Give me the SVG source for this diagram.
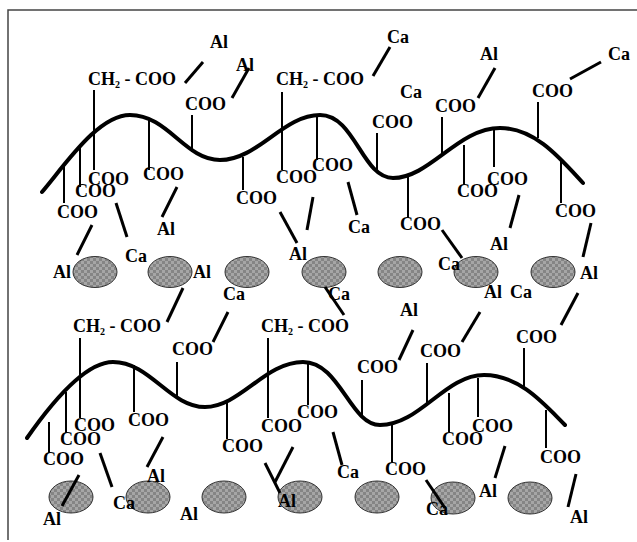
<svg xmlns="http://www.w3.org/2000/svg" width="637" height="542" viewBox="0 0 637 542">
  <defs>
    <pattern id="grain" width="6" height="6" patternUnits="userSpaceOnUse">
      <rect width="6" height="6" fill="#858585"/>
      <rect width="3" height="3" fill="#a6a6a6"/>
      <rect x="3" y="3" width="3" height="3" fill="#a6a6a6"/>
    </pattern>
    <style>
      .frame { fill: none; stroke: #444; stroke-width: 1.5; }
      .chain { fill: none; stroke: #000; stroke-width: 4; stroke-linecap: round; }
      .stick { stroke: #000; stroke-width: 2; }
      .bond { stroke: #000; stroke-width: 3; }
      .grain { fill: url(#grain); stroke: #333; stroke-width: 1; }
      text { font-family: "Liberation Serif", "Times New Roman", serif; font-weight: bold; font-size: 18px; fill: #000; }
      .sub { font-size: 10px; }
    </style>
  </defs>

  <rect width="637" height="542" fill="#fff"/>

  <!-- frame -->
  <g id="frame">
    <polyline class="frame" points="8,540 8,10 637,10"/>
  </g>

  <!-- particles -->
  <g id="particles-upper">
    <ellipse class="grain" cx="95" cy="272" rx="22" ry="15.5"/>
    <ellipse class="grain" cx="170" cy="272" rx="22" ry="15.5"/>
    <ellipse class="grain" cx="247" cy="272" rx="22" ry="15.5"/>
    <ellipse class="grain" cx="324" cy="272" rx="22" ry="15.5"/>
    <ellipse class="grain" cx="400" cy="272" rx="22" ry="15.5"/>
    <ellipse class="grain" cx="476" cy="272" rx="22" ry="15.5"/>
    <ellipse class="grain" cx="553" cy="272" rx="22" ry="15.5"/>
  </g>
  <g id="particles-lower">
    <ellipse class="grain" cx="71" cy="497" rx="22" ry="16"/>
    <ellipse class="grain" cx="148" cy="497" rx="22" ry="16"/>
    <ellipse class="grain" cx="224" cy="497" rx="22" ry="16"/>
    <ellipse class="grain" cx="300" cy="497" rx="22" ry="16"/>
    <ellipse class="grain" cx="377" cy="497" rx="22" ry="16"/>
    <ellipse class="grain" cx="453" cy="498" rx="22" ry="16"/>
    <ellipse class="grain" cx="530" cy="498" rx="22" ry="16"/>
  </g>

  <!-- polymer backbones -->
  <g id="chain-upper">
    <path class="chain" d="M42,192 C65,165 98,115 130,115 C168,115 185,160 220,160 C258,160 283,115 320,115 C355,115 362,178 393,178 C430,178 458,128 500,128 C535,128 560,158 583,183"/>
  </g>
  <g id="chain-lower">
    <path class="chain" d="M27,438 C50,405 85,362 113,362 C150,362 170,407 205,407 C240,407 265,362 303,362 C340,362 350,425 380,425 C420,425 445,375 484,375 C520,375 545,405 565,425"/>
  </g>

  <!-- side groups on the backbones -->
  <g id="sticks">
    <line class="stick" x1="64" y1="165" x2="64" y2="203"/>
    <line class="stick" x1="80" y1="145" x2="80" y2="187"/>
    <line class="stick" x1="94" y1="90" x2="94" y2="170"/>
    <line class="stick" x1="149" y1="118" x2="149" y2="170"/>
    <line class="stick" x1="192" y1="115" x2="192" y2="152"/>
    <line class="stick" x1="243" y1="157" x2="243" y2="190"/>
    <line class="stick" x1="282" y1="92" x2="282" y2="170"/>
    <line class="stick" x1="317" y1="117" x2="317" y2="160"/>
    <line class="stick" x1="377" y1="133" x2="377" y2="173"/>
    <line class="stick" x1="408" y1="176" x2="408" y2="218"/>
    <line class="stick" x1="442" y1="117" x2="442" y2="153"/>
    <line class="stick" x1="464" y1="145" x2="464" y2="185"/>
    <line class="stick" x1="494" y1="128" x2="494" y2="167"/>
    <line class="stick" x1="538" y1="102" x2="538" y2="138"/>
    <line class="stick" x1="561" y1="160" x2="561" y2="203"/>

    <line class="stick" x1="49" y1="422" x2="49" y2="453"/>
    <line class="stick" x1="66" y1="392" x2="66" y2="433"/>
    <line class="stick" x1="80" y1="338" x2="80" y2="418"/>
    <line class="stick" x1="134" y1="365" x2="134" y2="412"/>
    <line class="stick" x1="177" y1="362" x2="177" y2="398"/>
    <line class="stick" x1="227" y1="400" x2="227" y2="439"/>
    <line class="stick" x1="268" y1="338" x2="268" y2="418"/>
    <line class="stick" x1="308" y1="363" x2="308" y2="405"/>
    <line class="stick" x1="362" y1="380" x2="362" y2="416"/>
    <line class="stick" x1="392" y1="425" x2="392" y2="462"/>
    <line class="stick" x1="427" y1="363" x2="427" y2="405"/>
    <line class="stick" x1="449" y1="393" x2="449" y2="432"/>
    <line class="stick" x1="478" y1="378" x2="478" y2="417"/>
    <line class="stick" x1="524" y1="348" x2="524" y2="387"/>
    <line class="stick" x1="546" y1="410" x2="546" y2="448"/>
  </g>

  <!-- ionic bonds to the cations -->
  <g id="bonds">
    <line class="bond" x1="185" y1="83" x2="203" y2="62"/>
    <line class="bond" x1="232" y1="98" x2="249" y2="68"/>
    <line class="bond" x1="373" y1="76" x2="390" y2="47"/>
    <line class="bond" x1="478" y1="98" x2="495" y2="68"/>
    <line class="bond" x1="570" y1="79" x2="601" y2="62"/>
    <line class="bond" x1="92" y1="225" x2="77" y2="255"/>
    <line class="bond" x1="116" y1="203" x2="127" y2="237"/>
    <line class="bond" x1="177" y1="187" x2="162" y2="217"/>
    <line class="bond" x1="183" y1="288" x2="167" y2="322"/>
    <line class="bond" x1="280" y1="212" x2="297" y2="243"/>
    <line class="bond" x1="313" y1="197" x2="307" y2="230"/>
    <line class="bond" x1="348" y1="182" x2="357" y2="215"/>
    <line class="bond" x1="325" y1="287" x2="344" y2="315"/>
    <line class="bond" x1="519" y1="195" x2="510" y2="228"/>
    <line class="bond" x1="442" y1="230" x2="462" y2="258"/>
    <line class="bond" x1="591" y1="223" x2="583" y2="257"/>
    <line class="bond" x1="578" y1="293" x2="561" y2="325"/>

    <line class="bond" x1="228" y1="312" x2="213" y2="342"/>
    <line class="bond" x1="413" y1="330" x2="399" y2="360"/>
    <line class="bond" x1="480" y1="312" x2="462" y2="342"/>
    <line class="bond" x1="163" y1="437" x2="147" y2="467"/>
    <line class="bond" x1="100" y1="453" x2="112" y2="487"/>
    <line class="bond" x1="79" y1="475" x2="62" y2="506"/>
    <line class="bond" x1="265" y1="463" x2="280" y2="493"/>
    <line class="bond" x1="293" y1="447" x2="275" y2="482"/>
    <line class="bond" x1="333" y1="432" x2="342" y2="465"/>
    <line class="bond" x1="426" y1="480" x2="445" y2="508"/>
    <line class="bond" x1="505" y1="446" x2="495" y2="478"/>
    <line class="bond" x1="576" y1="474" x2="568" y2="507"/>
  </g>

  <!-- carboxylate labels -->
  <g id="carboxyl-upper">
    <text x="88" y="85">CH<tspan class="sub" dy="3">2</tspan><tspan dy="-3"> - COO</tspan></text>
    <text x="276" y="85">CH<tspan class="sub" dy="3">2</tspan><tspan dy="-3"> - COO</tspan></text>
    <text x="185" y="110">COO</text>
    <text x="372" y="128">COO</text>
    <text x="435" y="112">COO</text>
    <text x="532" y="97">COO</text>
    <text x="57" y="218">COO</text>
    <text x="75" y="197">COO</text>
    <text x="88" y="185">COO</text>
    <text x="143" y="180">COO</text>
    <text x="236" y="204">COO</text>
    <text x="276" y="183">COO</text>
    <text x="312" y="171">COO</text>
    <text x="400" y="230">COO</text>
    <text x="457" y="197">COO</text>
    <text x="487" y="185">COO</text>
    <text x="555" y="217">COO</text>
  </g>
  <g id="carboxyl-lower">
    <text x="73" y="332">CH<tspan class="sub" dy="3">2</tspan><tspan dy="-3"> - COO</tspan></text>
    <text x="261" y="332">CH<tspan class="sub" dy="3">2</tspan><tspan dy="-3"> - COO</tspan></text>
    <text x="172" y="355">COO</text>
    <text x="357" y="373">COO</text>
    <text x="420" y="357">COO</text>
    <text x="516" y="343">COO</text>
    <text x="43" y="465">COO</text>
    <text x="60" y="445">COO</text>
    <text x="74" y="431">COO</text>
    <text x="128" y="426">COO</text>
    <text x="222" y="452">COO</text>
    <text x="261" y="432">COO</text>
    <text x="297" y="418">COO</text>
    <text x="385" y="475">COO</text>
    <text x="442" y="445">COO</text>
    <text x="472" y="432">COO</text>
    <text x="540" y="463">COO</text>
  </g>

  <!-- cations -->
  <g id="cations">
    <text x="210" y="48">Al</text>
    <text x="236" y="71">Al</text>
    <text x="387" y="43">Ca</text>
    <text x="400" y="98">Ca</text>
    <text x="480" y="60">Al</text>
    <text x="608" y="60">Ca</text>
    <text x="157" y="235">Al</text>
    <text x="125" y="262">Ca</text>
    <text x="53" y="278">Al</text>
    <text x="193" y="278">Al</text>
    <text x="289" y="260">Al</text>
    <text x="348" y="233">Ca</text>
    <text x="438" y="270">Ca</text>
    <text x="490" y="250">Al</text>
    <text x="580" y="279">Al</text>
    <text x="484" y="298">Al</text>
    <text x="510" y="298">Ca</text>
    <text x="223" y="300">Ca</text>
    <text x="328" y="300">Ca</text>
    <text x="400" y="316">Al</text>

    <text x="147" y="482">Al</text>
    <text x="113" y="509">Ca</text>
    <text x="43" y="525">Al</text>
    <text x="180" y="520">Al</text>
    <text x="278" y="507">Al</text>
    <text x="337" y="478">Ca</text>
    <text x="426" y="515">Ca</text>
    <text x="479" y="497">Al</text>
    <text x="570" y="523">Al</text>
  </g>
</svg>
